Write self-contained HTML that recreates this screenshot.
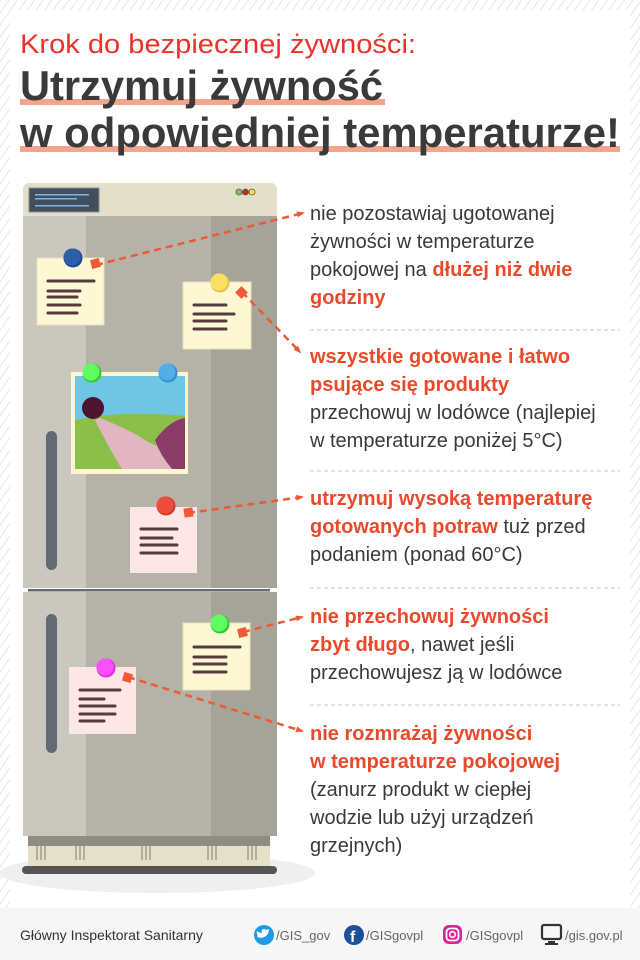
<!DOCTYPE html>
<html><head><meta charset="utf-8"><style>
html,body{margin:0;padding:0;width:640px;height:960px;overflow:hidden;background:#fff}
svg{display:block}
.t{font-family:"Liberation Sans",sans-serif;font-size:20px;fill:#3a3a3a}
.b{font-weight:bold;fill:#ea4a2c}
</style></head><body>
<svg width="640" height="960" viewBox="0 0 640 960" xmlns="http://www.w3.org/2000/svg">
<defs>
<pattern id="h" width="7" height="7" patternUnits="userSpaceOnUse" patternTransform="rotate(35)">
<rect width="7" height="7" fill="#fff"/><line x1="0" y1="0" x2="0" y2="7" stroke="#dedede" stroke-width="1.5"/>
</pattern>
<marker id="ar" markerWidth="8" markerHeight="8" refX="6" refY="4" orient="auto" markerUnits="userSpaceOnUse"><path d="M0,1 L8,4 L0,7 Z" fill="#ee5a38"/></marker>
</defs>
<rect width="640" height="960" fill="url(#h)"/>
<rect x="10" y="10" width="620" height="898" fill="#fff"/>
<rect x="0" y="908" width="640" height="52" fill="#f6f6f6"/>

<!-- title -->
<text x="20" y="53" font-family="Liberation Sans,sans-serif" font-size="27" fill="#e8332a" textLength="396" lengthAdjust="spacingAndGlyphs">Krok do bezpiecznej żywności:</text>
<rect x="20" y="99" width="365" height="6" fill="#f6a58d"/>
<rect x="20" y="146" width="600" height="6" fill="#f6a58d"/>
<text x="20" y="100" font-family="Liberation Sans,sans-serif" font-weight="bold" font-size="42" fill="#3a3a3a" textLength="363" lengthAdjust="spacingAndGlyphs">Utrzymuj żywność</text>
<text x="20" y="147" font-family="Liberation Sans,sans-serif" font-weight="bold" font-size="42" fill="#3a3a3a" textLength="600" lengthAdjust="spacingAndGlyphs">w odpowiedniej temperaturze!</text>

<!-- fridge shadow -->
<ellipse cx="157" cy="873" rx="158" ry="20" fill="#efefef"/>
<!-- fridge -->
<path d="M23,189 a6,6 0 0 1 6,-6 H271 a6,6 0 0 1 6,6 V216 H23 Z" fill="#e2dfca"/>
<rect x="29" y="188" width="70" height="24" fill="#434e5c" stroke="#8a8f94" stroke-width="1"/>
<rect x="35" y="194" width="54" height="1.5" fill="#7fb5e6"/><rect x="35" y="198" width="42" height="1.5" fill="#7fb5e6"/><rect x="35" y="205" width="54" height="1.5" fill="#7fb5e6"/>
<circle cx="239" cy="192" r="3" fill="#8bc34a" stroke="#555" stroke-width="0.8"/><circle cx="245.5" cy="192" r="3" fill="#c62828" stroke="#555" stroke-width="0.8"/><circle cx="252" cy="192" r="3" fill="#f5e23c" stroke="#555" stroke-width="0.8"/>
<rect x="23" y="216" width="63" height="372" fill="#cac7be"/>
<rect x="86" y="216" width="125" height="372" fill="#b5b3a7"/>
<rect x="211" y="216" width="66" height="372" fill="#a6a498"/>
<rect x="23" y="588" width="254" height="4" fill="#fff"/>
<rect x="28" y="589" width="242" height="2.5" fill="#636b75"/>
<rect x="23" y="592" width="63" height="244" fill="#cac7be"/>
<rect x="86" y="592" width="125" height="244" fill="#b5b3a7"/>
<rect x="211" y="592" width="66" height="244" fill="#a6a498"/>
<rect x="28" y="836" width="242" height="10" fill="#8f8d83"/>
<rect x="28" y="846" width="242" height="20" fill="#e4e0c9"/>
<g stroke="#8f8d83" stroke-width="1.2">
<path d="M37,840v20M41,840v20M45,840v20 M76,840v20M80,840v20M84,840v20 M142,840v20M146,840v20M150,840v20 M208,840v20M212,840v20M216,840v20 M248,840v20M252,840v20M256,840v20"/>
</g>
<rect x="22" y="866" width="255" height="8" rx="4" fill="#555"/>
<rect x="46" y="431" width="11" height="139" rx="5.5" fill="#636a73"/>
<rect x="46" y="614" width="11" height="139" rx="5.5" fill="#636a73"/>

<!-- notes -->
<g stroke="#553b3b" stroke-width="3" stroke-linecap="round">
<rect x="37" y="258" width="67" height="67" fill="#fef7d4" stroke="#e8e0bd" stroke-width="1"/>
<path d="M48,281H94M48,291H80M48,297H77M48,305H80M48,313H77"/>
<rect x="183" y="282" width="68" height="67" fill="#fef7d4" stroke="#e8e0bd" stroke-width="1"/>
<path d="M194,305H226M194,314H234M194,321H226M194,329H226"/>
<rect x="130" y="507" width="67" height="66" fill="#fde7e6" stroke="none"/>
<path d="M141,529H177M141,538H172M141,545H177M141,553H177"/>
<rect x="183" y="623" width="67" height="67" fill="#fef7d4" stroke="#e8e0bd" stroke-width="1"/>
<path d="M194,647H240M194,657H226M194,664H226M194,672H226"/>
<rect x="69" y="667" width="67" height="67" fill="#fde7e6" stroke="none"/>
<path d="M80,690H120M80,699H104M80,706H115M80,714H115M80,721H104"/>
</g>

<!-- photo -->
<rect x="71" y="372" width="117" height="102" fill="#fdf6d3"/>
<rect x="75" y="376" width="110" height="93" fill="#6fc6e3"/>
<path d="M75,420 Q120,410 185,416 V469 H75 Z" fill="#8bbf4a"/>
<path d="M95,420 Q110,450 122,469 H185 V450 Q160,450 145,440 Q130,430 100,418 Z" fill="#e2b6c0"/>
<path d="M155,440 Q170,420 185,418 V469 H172 Q160,455 155,440Z" fill="#8a3c66"/>
<circle cx="93" cy="408" r="11" fill="#4b1530"/>

<!-- pins -->
<circle cx="73" cy="258" r="9.5" fill="#1d4a96"/><circle cx="72" cy="257" r="8.5" fill="#2e5ea8"/>
<circle cx="220" cy="283" r="9.5" fill="#e0c44c"/><circle cx="219" cy="282" r="8.5" fill="#fbe162"/>
<circle cx="92" cy="373" r="9.5" fill="#2ecc2e"/><circle cx="91" cy="372" r="8.5" fill="#62fc62"/>
<circle cx="168" cy="373" r="9.5" fill="#2f8fd6"/><circle cx="167" cy="372" r="8.5" fill="#55ade6"/>
<circle cx="166" cy="506" r="9.5" fill="#d63a2a"/><circle cx="165" cy="505" r="8.5" fill="#ec4d3c"/>
<circle cx="220" cy="624" r="9.5" fill="#2ecc2e"/><circle cx="219" cy="623" r="8.5" fill="#62fc62"/>
<circle cx="106" cy="668" r="9.5" fill="#e02fe0"/><circle cx="105" cy="667" r="8.5" fill="#fb4ffb"/>

<!-- connectors -->
<g stroke="#ee5a38" stroke-width="2.5" stroke-dasharray="7,5" fill="none" marker-end="url(#ar)">
<path d="M96,265 L303,213"/>
<path d="M242,292 L300,352"/>
<path d="M188,513 L302,497"/>
<path d="M243,632 L302,617"/>
<path d="M128,677 L302,731"/>
</g>
<g fill="#ee5a38">
<rect x="91" y="259" width="9" height="9" transform="rotate(-14 95.5 263.5)"/>
<rect x="237" y="288" width="9" height="9" transform="rotate(45 241.5 292.5)"/>
<rect x="184" y="508" width="9" height="9" transform="rotate(-8 188.5 512.5)"/>
<rect x="238" y="628" width="9" height="9" transform="rotate(-14 242.5 632.5)"/>
<rect x="123" y="673" width="9" height="9" transform="rotate(17 127.5 677.5)"/>
</g>

<!-- separators -->
<g stroke="#c8c8c8" stroke-width="1" stroke-dasharray="4,3">
<path d="M310,330H620M310,471H620M310,588H620M310,705H620"/>
</g>

<!-- texts -->
<text class="t" x="310" y="220">nie pozostawiaj ugotowanej</text>
<text class="t" x="310" y="248">żywności w temperaturze</text>
<text class="t" x="310" y="276">pokojowej na <tspan class="b">dłużej niż dwie</tspan></text>
<text class="t b" x="310" y="304">godziny</text>

<text class="t b" x="310" y="363">wszystkie gotowane i łatwo</text>
<text class="t b" x="310" y="391">psujące się produkty</text>
<text class="t" x="310" y="419">przechowuj w lodówce (najlepiej</text>
<text class="t" x="310" y="447">w temperaturze poniżej 5°C)</text>

<text class="t b" x="310" y="505">utrzymuj wysoką temperaturę</text>
<text class="t" x="310" y="533"><tspan class="b">gotowanych potraw</tspan> tuż przed</text>
<text class="t" x="310" y="561">podaniem (ponad 60°C)</text>

<text class="t b" x="310" y="623">nie przechowuj żywności</text>
<text class="t" x="310" y="651"><tspan class="b">zbyt długo</tspan>, nawet jeśli</text>
<text class="t" x="310" y="679">przechowujesz ją w lodówce</text>

<text class="t b" x="310" y="740">nie rozmrażaj żywności</text>
<text class="t b" x="310" y="768">w temperaturze pokojowej</text>
<text class="t" x="310" y="796">(zanurz produkt w ciepłej</text>
<text class="t" x="310" y="824">wodzie lub użyj urządzeń</text>
<text class="t" x="310" y="852">grzejnych)</text>

<!-- footer -->
<g font-family="Liberation Sans,sans-serif">
<text x="20" y="940" font-size="14" fill="#333">Główny Inspektorat Sanitarny</text>
<circle cx="264" cy="935" r="10" fill="#1d9ce6"/>
<path d="M258,937 q4,2 8,-1 q3,-3 3,-7 l-3,1 q-2,-2 -4,0 q-1,2 0,3 q-3,0 -5,-2 q-1,3 1,4 q-1,1 -1,0 q0,2 2,3 z" fill="#fff"/>
<text x="276" y="940" font-size="13" fill="#666">/GIS_gov</text>
<circle cx="354" cy="935" r="10" fill="#1b4f9a"/>
<text x="350" y="942" font-size="16" font-weight="bold" fill="#fff">f</text>
<text x="366" y="940" font-size="13" fill="#666">/GISgovpl</text>
<rect x="443" y="925" width="19" height="19" rx="6" fill="#d6249f"/>
<rect x="446.5" y="928.5" width="12" height="12" rx="3.5" fill="none" stroke="#fff" stroke-width="1.8"/>
<circle cx="452.5" cy="934.5" r="2.8" fill="none" stroke="#fff" stroke-width="1.6"/>
<text x="466" y="940" font-size="13" fill="#666">/GISgovpl</text>
<rect x="542" y="925" width="19" height="14" rx="2" fill="none" stroke="#333" stroke-width="2.2"/>
<rect x="548" y="941" width="7" height="3" fill="#333"/><rect x="545" y="943" width="13" height="2" fill="#333"/>
<text x="565" y="940" font-size="13" fill="#666">/gis.gov.pl</text>
</g>
</svg>
</body></html>
